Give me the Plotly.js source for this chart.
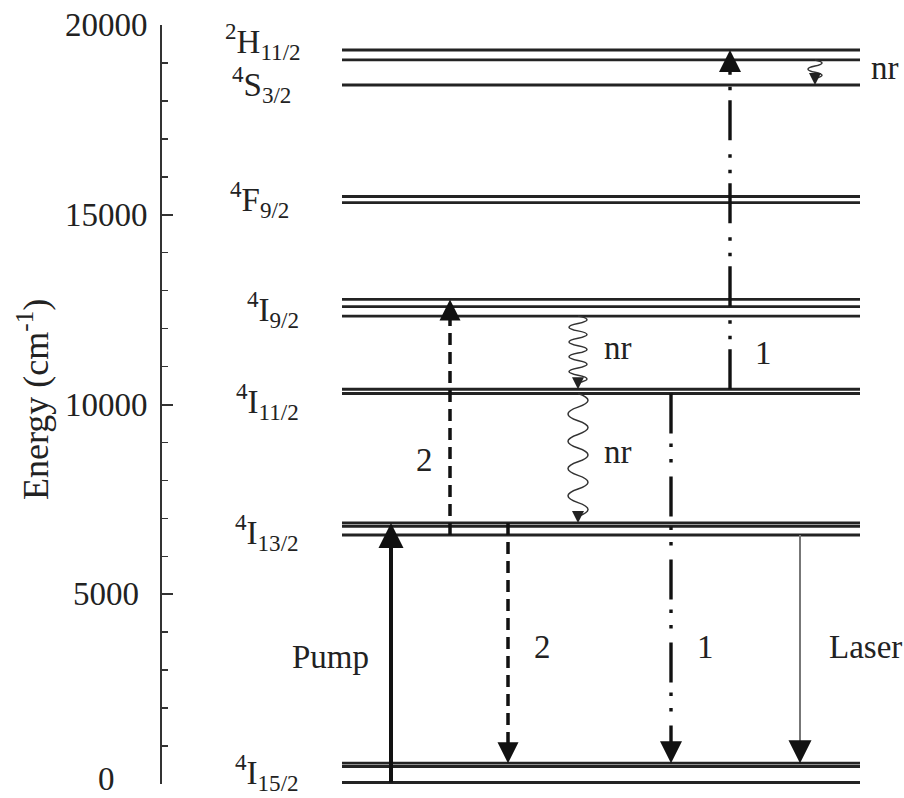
<!DOCTYPE html>
<html>
<head>
<meta charset="utf-8">
<script src="https://cdn.plot.ly/plotly-3.0.1.min.js"></script>
<style>html,body{margin:0;padding:0;background:#fff}</style>
</head>
<body>
<div id="chart" style="width:904px;height:798px"></div>
<script>
// ---- Er3+ manifolds and their Stark sublevels (energies in cm^-1) ----
const levelNames = [
  '<sup>4</sup>I<sub>15/2</sub>',
  '<sup>4</sup>I<sub>13/2</sub>',
  '<sup>4</sup>I<sub>11/2</sub>',
  '<sup>4</sup>I<sub>9/2</sub>',
  '<sup>4</sup>F<sub>9/2</sub>',
  '<sup>4</sup>S<sub>3/2</sub>',
  '<sup>2</sup>H<sub>11/2</sub>'
];
const levelSublevels = [
  [40, 460, 550],
  [6560, 6790, 6880],
  [10290, 10400],
  [12330, 12580, 12770],
  [15320, 15480],
  [18420],
  [19080, 19340]
];

// ---- transitions between levels (cm^-1) ----
const transFrom   = [40,   6560, 6880, 10290, 10400, 6560,    12330, 10290, 19080];
const transTo     = [6880, 12770, 550,  550,  19340, 550,     10400, 6880,  18420];
const transKind   = ['pump', 'dash', 'dash', 'dashdot', 'dashdot', 'laser', 'wavy', 'wavy', 'wavy'];
const transLabels = ['Pump', '2', '2', '1', '1', 'Laser', 'nr', 'nr', 'nr'];

// ---- energy axis ----
const axisTitle = 'Energy (cm<sup>-1</sup>)';
const tickVals = [0, 5000, 10000, 15000, 20000];
const tickText = ['0', '5000', '10000', '15000', '20000'];

// ---- drawing geometry (horizontal unit = 1 px) ----
const MARGIN = {l: 162, r: 0, t: 25, b: 14};
const W = 904, H = 798;
const E_MAX = 20000;
const PLOT_W = W - MARGIN.l - MARGIN.r;
const PX_PER_E = (H - MARGIN.t - MARGIN.b) / E_MAX;
const toPaperX = px => (px - MARGIN.l) / PLOT_W;
const TICK_LABEL_CX = 106;          // tick numbers are centred on this column
const TITLE_CX = 33, TITLE_CY = 400;
const tickLabelLift = [5, 0, 0, 0, 0];   // px, keeps the bottom number inside the page
const LEVEL_X0 = 342, LEVEL_X1 = 860;
const levelLabelX = [301, 301, 301, 301, 291, 293, 303];
const levelLabelE = [300, 6620, 10080, 12500, 15390, 18440, 19560];
const transX = [391, 450, 508, 671, 730, 800, 578, 578, 815];
const transLabelX = [330, 424, 542, 705, 763, 865, 618, 618, 885];
const transLabelE = [3350, 8540, 3610, 3610, 11360, 3610, 11490, 8750, 18870];
const waveHalves = [0, 0, 0, 0, 0, 0, 9, 9, 3];
const waveAmp    = [0, 0, 0, 0, 0, 0, 9, 10, 7];

const styles = {
  pump:    {color: '#111', width: 4,   dash: 'solid', head: 25, headColor: '#111'},
  dash:    {color: '#111', width: 3.5, dash: '12px,7px', head: 21, headColor: '#111'},
  dashdot: {color: '#111', width: 3.4, dash: '40px,10px,3.5px,12px,3.5px,14px', head: 22, headColor: '#111'},
  laser:   {color: '#777', width: 2,   dash: 'solid', head: 23, headColor: '#111'},
  wavy:    {color: '#333', width: 1.5, dash: 'solid', head: 12, headColor: '#222'}
};

const SERIF = 'Liberation Serif, Times New Roman, serif';
const INK = '#222';

const traces = [];
const shapes = [];
const annotations = [];

// level lines
levelSublevels.forEach(subs => {
  subs.forEach(e => {
    traces.push({
      x: [LEVEL_X0, LEVEL_X1], y: [e, e], mode: 'lines', type: 'scatter',
      line: {color: '#232323', width: 2.9}, hoverinfo: 'skip', showlegend: false
    });
  });
});

// level names
levelNames.forEach((name, i) => {
  annotations.push({
    x: levelLabelX[i], y: levelLabelE[i], xref: 'x', yref: 'y',
    text: name, showarrow: false, xanchor: 'right', yanchor: 'middle',
    font: {family: SERIF, size: 33, color: INK}
  });
});

// squiggle for non-radiative relaxation, as an SVG path in data units
function wavyPath(x, e0, e1, halves, amp) {
  let d = `M${x},${e0}`;
  const step = (e1 - e0) / halves;
  for (let k = 0; k < halves; k++) {
    const side = (k % 2 === 0) ? 1 : -1;
    const ym = e0 + step * (k + 0.5);
    const yn = e0 + step * (k + 1);
    d += ` Q${x + side * 2 * amp},${ym} ${x},${yn}`;
  }
  return d;
}

// transitions
transFrom.forEach((e0, i) => {
  const e1 = transTo[i];
  const st = styles[transKind[i]];
  const dir = e1 > e0 ? 1 : -1;
  const headE = st.head / PX_PER_E;
  const shaftEnd = e1 - dir * headE * 0.55;
  const x = transX[i];

  if (transKind[i] === 'wavy') {
    shapes.push({
      type: 'path', xref: 'x', yref: 'y',
      path: wavyPath(x, e0, shaftEnd, waveHalves[i], waveAmp[i]),
      line: {color: st.color, width: st.width}
    });
  } else {
    traces.push({
      x: [x, x], y: [e0, shaftEnd], mode: 'lines', type: 'scatter',
      line: {color: st.color, width: st.width, dash: st.dash},
      hoverinfo: 'skip', showlegend: false
    });
  }

  // arrow head
  const w = Math.max(st.width, 1.5);
  annotations.push({
    x: x, y: e1, ax: x, ay: e1 - dir * headE, xref: 'x', yref: 'y', axref: 'x', ayref: 'y',
    text: '', showarrow: true, arrowhead: 2, arrowwidth: w,
    arrowsize: st.head / (5 * w), arrowcolor: st.headColor, standoff: 0
  });

  // transition label
  annotations.push({
    x: transLabelX[i], y: transLabelE[i], xref: 'x', yref: 'y',
    text: transLabels[i], showarrow: false, xanchor: 'center', yanchor: 'middle',
    font: {family: SERIF, size: 33, color: INK}
  });
});

// tick numbers, centred on a common column left of the axis
tickVals.forEach((v, i) => {
  annotations.push({
    x: toPaperX(TICK_LABEL_CX), y: v, xref: 'paper', yref: 'y',
    text: tickText[i], showarrow: false, xanchor: 'center', yanchor: 'middle',
    yshift: tickLabelLift[i],
    font: {family: SERIF, size: 33, color: INK}
  });
});

// axis title, rotated
annotations.push({
  x: toPaperX(TITLE_CX), y: (H - MARGIN.b - TITLE_CY) / (H - MARGIN.t - MARGIN.b),
  xref: 'paper', yref: 'paper', text: axisTitle, textangle: -90,
  showarrow: false, xanchor: 'center', yanchor: 'middle',
  font: {family: SERIF, size: 36, color: INK}
});

const layout = {
  width: W, height: H,
  margin: MARGIN,
  paper_bgcolor: '#fff', plot_bgcolor: '#fff',
  showlegend: false,
  xaxis: {range: [MARGIN.l, W - MARGIN.r], visible: false, fixedrange: true},
  yaxis: {
    range: [0, E_MAX], fixedrange: true,
    showgrid: false, zeroline: false,
    showline: true, linecolor: '#333', linewidth: 2,
    ticks: 'inside', ticklen: 11, tickwidth: 2, tickcolor: '#333',
    tickmode: 'array', tickvals: tickVals, showticklabels: false,
    minor: {tickmode: 'linear', tick0: 0, dtick: 1000, ticks: 'inside', ticklen: 6, tickwidth: 1.5, tickcolor: '#333', showgrid: false},
    automargin: false
  },
  shapes: shapes,
  annotations: annotations
};

Plotly.newPlot('chart', traces, layout, {staticPlot: true, displayModeBar: false});
</script>
</body>
</html>
